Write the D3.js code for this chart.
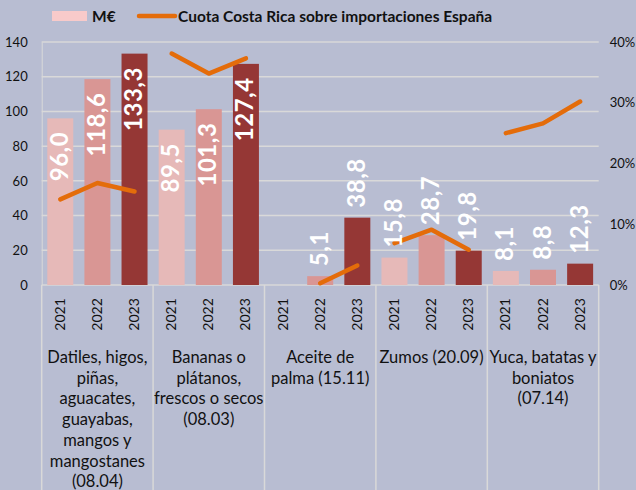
<!DOCTYPE html>
<html>
<head>
<meta charset="utf-8">
<script src="https://cdn.jsdelivr.net/npm/d3@7"></script>
<style>
html,body{margin:0;padding:0;background:#b8bdd2;}
svg{display:block;}
text{font-family:Lato,"Open Sans",sans-serif;}
</style>
</head>
<body>
<svg id="chart" width="636" height="490"></svg>
<script>
const categories = [
  ["Datiles, higos,", "piñas,", "aguacates,", "guayabas,", "mangos y", "mangostanes", "(08.04)"],
  ["Bananas o", "plátanos,", "frescos o secos", "(08.03)"],
  ["Aceite de", "palma (15.11)"],
  ["Zumos (20.09)"],
  ["Yuca, batatas y", "boniatos", "(07.14)"]
];
const years = ["2021", "2022", "2023"];
const values2021 = [96.0, 89.5, null, 15.8, 8.1];
const values2022 = [118.6, 101.3, 5.1, 28.7, 8.8];
const values2023 = [133.3, 127.4, 38.8, 19.8, 12.3];
const share2021 = [14.1, 38.1, null, 6.9, 25.0];
const share2022 = [16.8, 34.8, 0.3, 9.1, 26.6];
const share2023 = [15.4, 37.3, 3.2, 5.8, 30.2];
const leftTicks = [0, 20, 40, 60, 80, 100, 120, 140];
const rightTicks = [0, 10, 20, 30, 40];
const legendLabels = ["M€", "Cuota Costa Rica sobre importaciones España"];

const yearColors = ["#e6b9b8", "#d99694", "#953735"];
const lineColor = "#e46c0a";
const gridColor = "#d9d9d9";

const valuesByYear = [values2021, values2022, values2023];
const sharesByYear = [share2021, share2022, share2023];

const svg = d3.select("#chart");
const pLeft = 41.7, pRight = 598.7, pTop = 42, pBottom = 285;

const slots = [];
categories.forEach((c, ci) => years.forEach((yr, yi) => slots.push(ci + "-" + yi)));

const x = d3.scaleBand().domain(slots).range([pLeft, pRight]).paddingInner(0.3).paddingOuter(0.15);
const catX = d3.scaleBand().domain(d3.range(categories.length)).range([pLeft, pRight]);
const y = d3.scaleLinear().domain([0, 140]).range([pBottom, pTop]);
const y2 = d3.scaleLinear().domain([0, 40]).range([pBottom, pTop]);

// gridlines
svg.append("g").selectAll("line").data(leftTicks.filter(d => d > 0)).join("line")
  .attr("x1", pLeft).attr("x2", pRight)
  .attr("y1", d => y(d)).attr("y2", d => y(d))
  .attr("stroke", gridColor).attr("stroke-width", 1.5);

// left axis
const yAxis = d3.axisLeft(y).tickValues(leftTicks).tickSize(0).tickPadding(14);
const gl = svg.append("g").attr("transform", `translate(${pLeft},0)`).call(yAxis);
gl.select(".domain").attr("stroke", gridColor).attr("stroke-width", 1);
gl.selectAll("text").attr("font-size", 13).attr("fill", "#111").attr("font-family", "Lato, sans-serif");

// right axis
const y2Axis = d3.axisRight(y2).tickValues(rightTicks).tickSize(0).tickPadding(11).tickFormat(d => d + "%");
const gr = svg.append("g").attr("transform", `translate(${pRight},0)`).call(y2Axis);
gr.select(".domain").remove();
gr.selectAll("text").attr("font-size", 13).attr("fill", "#111").attr("font-family", "Lato, sans-serif");

// category boxes
const boundaries = d3.range(categories.length + 1).map(i => i < categories.length ? catX(i) : pRight);
svg.append("g").selectAll("line").data(boundaries).join("line")
  .attr("x1", d => d).attr("x2", d => d).attr("y1", pBottom).attr("y2", 490)
  .attr("stroke", gridColor).attr("stroke-width", 1.5);
svg.append("line").attr("x1", pLeft).attr("x2", pRight).attr("y1", pBottom).attr("y2", pBottom)
  .attr("stroke", gridColor).attr("stroke-width", 1.5);

// bars
const barData = [];
categories.forEach((c, ci) => years.forEach((yr, yi) => {
  const v = valuesByYear[yi][ci];
  barData.push({ key: ci + "-" + yi, ci, yi, v });
}));

svg.append("g").selectAll("rect").data(barData.filter(d => d.v != null)).join("rect")
  .attr("x", d => x(d.key)).attr("width", x.bandwidth())
  .attr("y", d => y(d.v)).attr("height", d => y(0) - y(d.v))
  .attr("fill", d => yearColors[d.yi]);

// year labels
svg.append("g").selectAll("text").data(barData).join("text")
  .attr("transform", d => `translate(${x(d.key) + x.bandwidth() / 2 + 4.5},314.5) rotate(-90)`)
  .attr("text-anchor", "middle").attr("font-size", 14).attr("fill", "#111")
  .text(d => years[d.yi]);

// category labels
const catG = svg.append("g");
categories.forEach((lines, ci) => {
  const cx = catX(ci) + catX.bandwidth() / 2;
  const t = catG.append("text").attr("text-anchor", "middle").attr("font-size", 16.5).attr("fill", "#111");
  lines.forEach((ln, li) => {
    t.append("tspan").attr("x", cx).attr("y", 363 + li * 20.7).text(ln);
  });
});

// share lines
const line = d3.line().x(d => d.x).y(d => y2(d.s));
categories.forEach((c, ci) => {
  const pts = years.map((yr, yi) => ({ x: x(ci + "-" + yi) + x.bandwidth() / 2, s: sharesByYear[yi][ci] }))
    .filter(d => d.s != null);
  svg.append("path").datum(pts).attr("d", line)
    .attr("fill", "none").attr("stroke", lineColor).attr("stroke-width", 4.5)
    .attr("stroke-linecap", "round").attr("stroke-linejoin", "round");
});

// value labels
const fmt = v => v.toFixed(1).replace(".", ",");
svg.append("g").selectAll("text").data(barData.filter(d => d.v != null)).join("text")
  .attr("transform", d => {
    const cx = x(d.key) + x.bandwidth() / 2 + 7.5;
    const inside = d.v > 50;
    const yy = inside ? y(d.v) + 13.5 : y(d.v) - 10;
    return `translate(${cx},${yy}) rotate(-90)`;
  })
  .attr("text-anchor", d => d.v > 50 ? "end" : "start")
  .attr("font-size", 24).attr("font-weight", "bold").attr("fill", "#fff")
  .attr("letter-spacing", 0.5)
  .text(d => fmt(d.v));

// legend
const lg = svg.append("g");
lg.append("rect").attr("x", 52).attr("y", 11).attr("width", 35).attr("height", 10).attr("fill", "#f8caca");
lg.append("text").attr("x", 92).attr("y", 22).attr("font-size", 15.5).attr("font-weight", "bold").attr("fill", "#111").text(legendLabels[0]);
lg.append("line").attr("x1", 139).attr("x2", 175).attr("y1", 16).attr("y2", 16)
  .attr("stroke", lineColor).attr("stroke-width", 4.5).attr("stroke-linecap", "round");
lg.append("text").attr("x", 178).attr("y", 22).attr("font-size", 15.5).attr("font-weight", "bold").attr("fill", "#111").text(legendLabels[1]);
</script>
</body>
</html>
